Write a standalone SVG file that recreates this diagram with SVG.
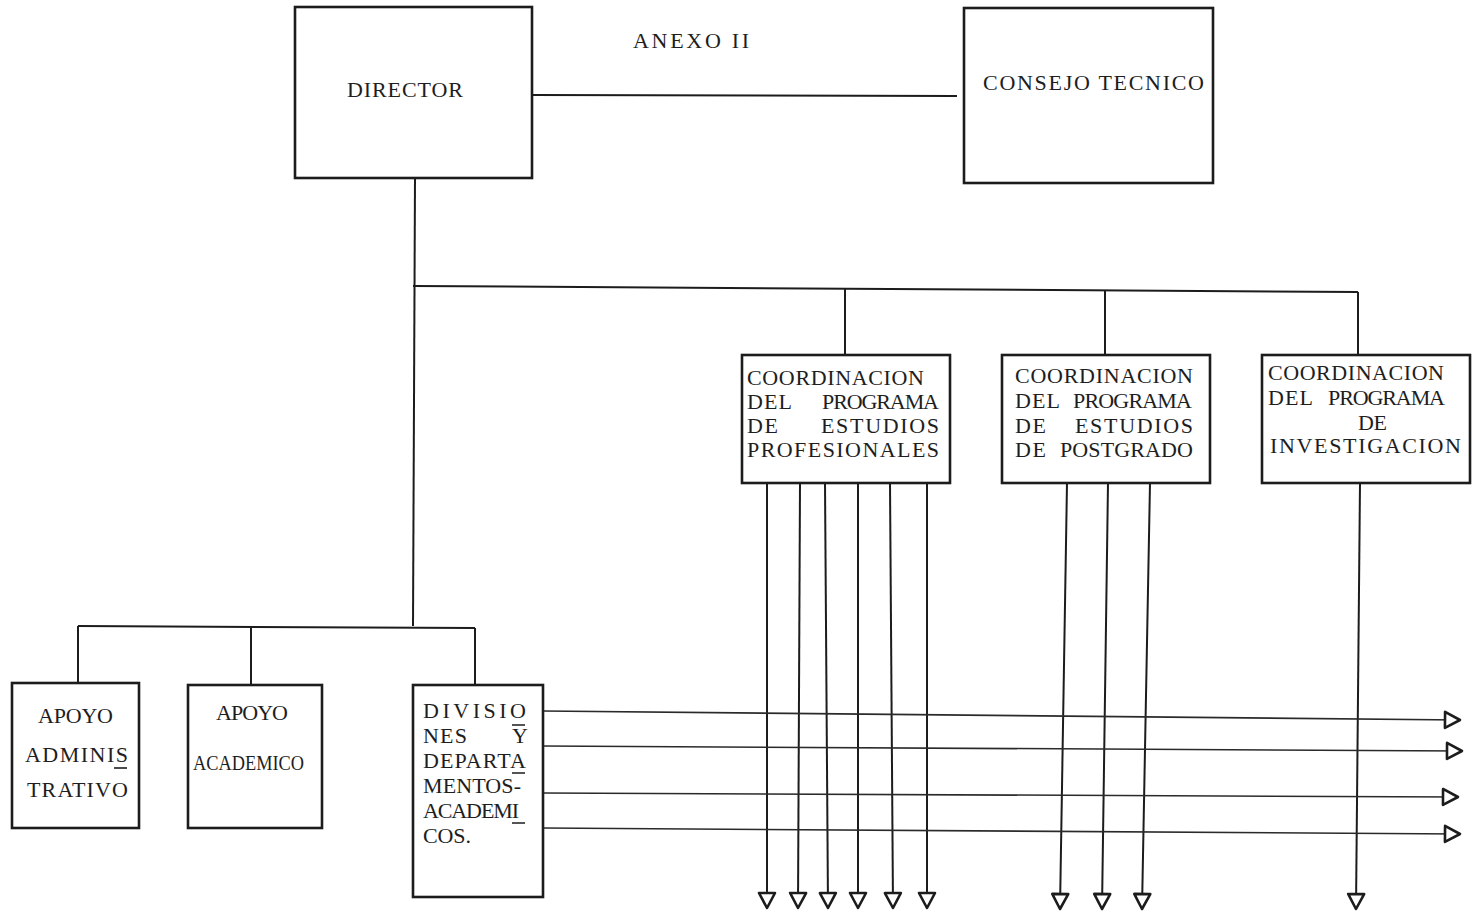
<svg xmlns="http://www.w3.org/2000/svg" width="1476" height="913" viewBox="0 0 1476 913">
<style>
.box{fill:none;stroke:#1c1c1c;stroke-width:2.6}
.t{font-family:"Liberation Serif","DejaVu Serif",serif;font-size:22px;fill:#1e1e1e}
.ln{fill:none;stroke:#1c1c1c;stroke-width:2}
.hl{fill:none;stroke:#2a2a2a;stroke-width:1.6}
.dec{fill:none;stroke:#1e1e1e;stroke-width:1.6}
</style>
<defs>
<marker id="tri" viewBox="0 0 20 20" markerWidth="20" markerHeight="20" refX="18" refY="10" orient="auto" markerUnits="userSpaceOnUse" overflow="visible">
<path d="M3,2 L18,10 L3,18 Z" fill="#fff" stroke="#1c1c1c" stroke-width="2.6" stroke-linejoin="round"/>
</marker>
</defs>
<rect width="1476" height="913" fill="#fff"/>
<text class="t" x="633" y="48" textLength="116" lengthAdjust="spacing">ANEXO II</text>
<g id="connectors">
<path class="ln" d="M532,95 L957,96"/>
<path class="ln" d="M415,178 L413,626"/>
<path class="ln" d="M413,286 L1358,292"/>
<path class="ln" d="M845,288 L845,354"/>
<path class="ln" d="M1105,290 L1105,356"/>
<path class="ln" d="M1358,292 L1358,356"/>
<path class="ln" d="M78,626 L475,628"/>
<path class="ln" d="M78,626 L78,683"/>
<path class="ln" d="M251,627 L251,685"/>
<path class="ln" d="M475,628 L475,685"/>
<path class="ln" d="M767,483 L767,908" marker-end="url(#tri)"/>
<path class="ln" d="M800,483 L798,908" marker-end="url(#tri)"/>
<path class="ln" d="M825,483 L828,908" marker-end="url(#tri)"/>
<path class="ln" d="M858,483 L858,908" marker-end="url(#tri)"/>
<path class="ln" d="M890,483 L893,908" marker-end="url(#tri)"/>
<path class="ln" d="M927,483 L927,908" marker-end="url(#tri)"/>
<path class="ln" d="M1067,483 L1060,909" marker-end="url(#tri)"/>
<path class="ln" d="M1108,483 L1102,909" marker-end="url(#tri)"/>
<path class="ln" d="M1150,483 L1142,909" marker-end="url(#tri)"/>
<path class="ln" d="M1360,483 L1356,909" marker-end="url(#tri)"/>
<path class="hl" d="M543,711 L1460,720" marker-end="url(#tri)"/>
<path class="hl" d="M543,746 L1462,751" marker-end="url(#tri)"/>
<path class="hl" d="M543,793 L1458,797" marker-end="url(#tri)"/>
<path class="hl" d="M543,828 L1460,834" marker-end="url(#tri)"/>
</g>
<g id="director">
<rect class="box" x="295" y="7" width="237" height="171"/>
<text class="t" x="347" y="97" textLength="116" lengthAdjust="spacing">DIRECTOR</text>
</g>
<g id="consejo">
<rect class="box" x="964" y="8" width="249" height="175"/>
<text class="t" x="983" y="90" textLength="221" lengthAdjust="spacing">CONSEJO TECNICO</text>
</g>
<g id="coord-prof">
<rect class="box" x="742" y="355" width="208" height="128"/>
<text class="t" x="747" y="385" textLength="177" lengthAdjust="spacing">COORDINACION</text>
<text class="t" x="747" y="409" textLength="45" lengthAdjust="spacing">DEL</text>
<text class="t" x="822" y="409" textLength="117" lengthAdjust="spacing">PROGRAMA</text>
<text class="t" x="747" y="433" textLength="31" lengthAdjust="spacing">DE</text>
<text class="t" x="821" y="433" textLength="118" lengthAdjust="spacing">ESTUDIOS</text>
<text class="t" x="747" y="457" textLength="192" lengthAdjust="spacing">PROFESIONALES</text>
</g>
<g id="coord-post">
<rect class="box" x="1002" y="355" width="208" height="128"/>
<text class="t" x="1015" y="383" textLength="178" lengthAdjust="spacing">COORDINACION</text>
<text class="t" x="1015" y="408" textLength="45" lengthAdjust="spacing">DEL</text>
<text class="t" x="1073" y="408" textLength="119" lengthAdjust="spacing">PROGRAMA</text>
<text class="t" x="1015" y="433" textLength="31" lengthAdjust="spacing">DE</text>
<text class="t" x="1075" y="433" textLength="118" lengthAdjust="spacing">ESTUDIOS</text>
<text class="t" x="1015" y="457" textLength="31" lengthAdjust="spacing">DE</text>
<text class="t" x="1060" y="457" textLength="133" lengthAdjust="spacing">POSTGRADO</text>
</g>
<g id="coord-inv">
<rect class="box" x="1262" y="355" width="208" height="128"/>
<text class="t" x="1268" y="380" textLength="176" lengthAdjust="spacing">COORDINACION</text>
<text class="t" x="1268" y="405" textLength="45" lengthAdjust="spacing">DEL</text>
<text class="t" x="1328" y="405" textLength="117" lengthAdjust="spacing">PROGRAMA</text>
<text class="t" x="1358" y="430" textLength="29" lengthAdjust="spacing">DE</text>
<text class="t" x="1270" y="453" textLength="191" lengthAdjust="spacing">INVESTIGACION</text>
</g>
<g id="apoyo-admin">
<rect class="box" x="12" y="683" width="127" height="145"/>
<text class="t" x="38" y="723" textLength="75" lengthAdjust="spacing">APOYO</text>
<text class="t" x="25" y="762" textLength="103" lengthAdjust="spacing">ADMINIS</text>
<text class="t" x="27" y="797" textLength="101" lengthAdjust="spacing">TRATIVO</text>
<path class="dec" d="M114,768 L127,768"/>
</g>
<g id="apoyo-acad">
<rect class="box" x="188" y="685" width="134" height="143"/>
<text class="t" x="216" y="720" textLength="72" lengthAdjust="spacing">APOYO</text>
<text class="t" x="193" y="770" textLength="111" lengthAdjust="spacingAndGlyphs">ACADEMICO</text>
</g>
<g id="divisiones">
<rect class="box" x="413" y="685" width="130" height="212"/>
<text class="t" x="423" y="718" textLength="103" lengthAdjust="spacing">DIVISIO</text>
<text class="t" x="423" y="743" textLength="44" lengthAdjust="spacing">NES</text>
<text class="t" x="512" y="743">Y</text>
<text class="t" x="423" y="768" textLength="103" lengthAdjust="spacing">DEPARTA</text>
<text class="t" x="423" y="793" textLength="98" lengthAdjust="spacing">MENTOS-</text>
<text class="t" x="423" y="818" textLength="96" lengthAdjust="spacing">ACADEMI</text>
<text class="t" x="423" y="843" textLength="48" lengthAdjust="spacing">COS.</text>
<path class="dec" d="M512,725 L525,725 M512,773 L525,773 M512,823 L525,823"/>
</g>
</svg>
